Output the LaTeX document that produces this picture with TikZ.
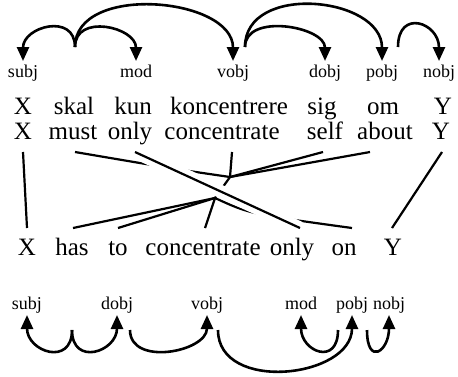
\documentclass[tikz,border=0pt]{standalone}
\usepackage{fontspec}
\setmainfont{Liberation Serif}
\usetikzlibrary{arrows.meta}

\begin{document}
\begin{tikzpicture}[
  x=0.5pt, y=0.5pt,
  word/.style={anchor=base, inner sep=0pt, font=\fontsize{12.5}{15}\selectfont},
  rel/.style={anchor=base, inner sep=0pt, font=\fontsize{9}{11}\selectfont},
  dep/.style={-{Triangle[length=7pt,width=6pt]}, line width=1.3pt},
  link/.style={line width=1.1pt},
  over/.style={link, preaction={draw=white, line width=6.5pt}}
]
  \useasboundingbox (0,0) rectangle (458,-376);

  % Danish sentence, its gloss and the English sentence
  \foreach \w/\x [count=\i] in {X/23, skal/74, kun/133, koncentrere/229, sig/322, om/383, Y/443}
    \node[word] (d\i) at (\x,-114) {\w};
  \foreach \w/\x [count=\i] in {X/23, must/73, only/130, concentrate/222, self/325, about/385, Y/441}
    \node[word] (g\i) at (\x,-139) {\w};
  \foreach \w/\x [count=\i] in {X/27, has/72, to/118, concentrate/203, only/292, on/344, Y/393}
    \node[word] (e\i) at (\x,-255) {\w};

  % relation labels
  \foreach \r/\x/\n in {subj/23/s, mod/136/m, vobj/233/v, dobj/325/d, pobj/382/p, nobj/439/n}
    \node[rel] (t\n) at (\x,-77) {\r};
  \foreach \r/\x/\n in {subj/27/s, dobj/117/d, vobj/207/v, mod/301/m, pobj/352/p, nobj/389/n}
    \node[rel] (b\n) at (\x,-309) {\r};

  % Danish dependencies
  \coordinate (hskal) at (75,-47);
  \draw[dep] (hskal) to[out=90,in=90,looseness=1.64] ([shift={(0,16)}]ts.base);
  \draw[dep] (hskal) to[out=90,in=90,looseness=1.39] ([shift={(0,16)}]tm.base);
  \draw[dep] (hskal) to[out=90,in=90,looseness=1.03] ([shift={(0,16)}]tv.base);
  \draw[dep] ([shift={(12,30)}]tv.base) to[out=90,in=90,looseness=1.09] ([shift={(0,16)}]td.base);
  \draw[dep] ([shift={(12,30)}]tv.base) to[out=90,in=90,looseness=1.2] ([shift={(0,16)}]tp.base);
  \draw[dep] ([shift={(16,30)}]tp.base) to[out=90,in=90,looseness=2.28] ([shift={(0,16)}]tn.base);

  % English dependencies
  \coordinate (hhas) at (72,-330);
  \draw[dep] (hhas) to[out=-90,in=-90,looseness=1.98] ([shift={(0,-6)}]bs.base);
  \draw[dep] (hhas) to[out=-90,in=-90,looseness=1.98] ([shift={(0,-6)}]bd.base);
  \draw[dep] ([shift={(13,-21)}]bd.base) to[out=-90,in=-90,looseness=1.2] ([shift={(0,-6)}]bv.base);
  \draw[dep] ([shift={(11,-21)}]bv.base) to[out=-90,in=-90,looseness=1.2] ([shift={(0,-6)}]bp.base);
  \draw[dep] ([shift={(-14,-21)}]bp.base) to[out=-90,in=-90,looseness=2.34] ([shift={(0,-6)}]bm.base);
  \draw[dep] ([shift={(15,-21)}]bp.base) to[out=-90,in=-90,looseness=3.5] ([shift={(0,-6)}]bn.base);

  % word alignment
  \coordinate (jtop) at (230,-177);
  \coordinate (jbot) at (215,-198);
  \draw[link] ([shift={(0,-13)}]g1.base) -- ([shift={(0,27)}]e1.base);
  \draw[link] ([shift={(2,-13)}]g2.base) .. controls +(100,-17) .. (jtop);
  \draw[link] ([shift={(10,-13)}]g4.base) -- (jtop);
  \draw[link] ([shift={(-2,-13)}]g5.base) -- (jtop);
  \draw[link] ([shift={(-15,-13)}]g6.base) -- (jtop);
  \draw[link] (jtop) -- (jbot);
  \draw[link] (jbot) -- ([shift={(1,27)}]e2.base);
  \draw[link] (jbot) -- ([shift={(0,27)}]e3.base);
  \draw[link] (jbot) -- ([shift={(2,27)}]e4.base);
  \draw[link] (jbot) .. controls +(35,-16) .. ([shift={(8,27)}]e6.base);
  \draw[link] ([shift={(1,-13)}]g7.base) -- ([shift={(-1,27)}]e7.base);
  \draw[over] ([shift={(5,-13)}]g3.base) -- ([shift={(8,27)}]e5.base);
\end{tikzpicture}
\end{document}
